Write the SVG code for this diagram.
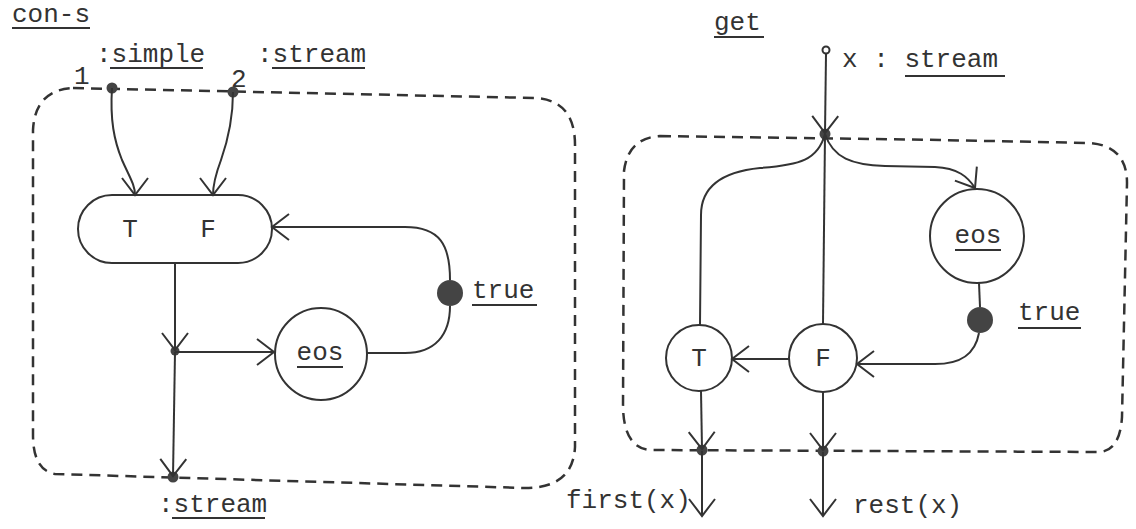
<svg xmlns="http://www.w3.org/2000/svg" width="1136" height="529" viewBox="0 0 1136 529">
<defs>
<style>
.t{font-family:"Liberation Mono","Courier New",monospace;font-size:26px;fill:#333}
.c{text-anchor:middle}
.ln{fill:none;stroke:#333;stroke-width:2}
.ul{stroke:#333;stroke-width:2}
.box{fill:none;stroke:#333;stroke-width:2.5;stroke-dasharray:11 7}
.nd{fill:#fff;stroke:#333;stroke-width:2}
.dot{fill:#444}
.arr{fill:none;stroke:#333;stroke-width:2;marker-end:url(#ah)}
</style>
<marker id="ah" markerUnits="userSpaceOnUse" viewBox="-20 -16 22 32" markerWidth="22" markerHeight="32" refX="0" refY="0" orient="auto" overflow="visible">
<path d="M -17 -13 L 0 0 L -17 13" fill="none" stroke="#333" stroke-width="2"/>
</marker>
</defs>
<rect width="1136" height="529" fill="#fff"/>

<g id="con-s">
<text class="t" x="12" y="22">con-s</text>
<line class="ul" x1="12" y1="28" x2="90" y2="28"/>
<path class="box" d="M 73 88 L 535 98 Q 575 100 575 145 L 575 447 Q 573 488 525 488 L 55 474 Q 33 470 33 435 L 33 130 Q 35 90 73 88 Z"/>
</g>

<g id="in1">
<text class="t" x="74" y="84">1</text>
<text class="t" x="96" y="62">:simple</text>
<line class="ul" x1="110" y1="68" x2="203" y2="68"/>
<circle class="dot" cx="112" cy="88" r="5.5"/>
</g>
<g id="in2">
<text class="t" x="231" y="87">2</text>
<text class="t" x="257" y="62">:stream</text>
<line class="ul" x1="272" y1="68" x2="365" y2="68"/>
<circle class="dot" cx="233" cy="92" r="5.5"/>
</g>

<g id="pill">
<rect class="nd" x="78" y="195" width="194" height="68" rx="34" ry="34"/>
<text class="t c" x="130" y="237">T</text>
<text class="t c" x="208" y="237">F</text>
</g>

<g id="eos1">
<circle class="nd" cx="321" cy="354" r="46"/>
<text class="t c" x="320" y="360">eos</text>
<line class="ul" x1="297" y1="367" x2="343" y2="367"/>
</g>

<g id="true1">
<circle class="dot" cx="450" cy="293" r="13"/>
<text class="t" x="472" y="298">true</text>
<line class="ul" x1="472" y1="305" x2="537" y2="305"/>
</g>

<g id="junc1">
<circle class="dot" cx="175" cy="351" r="4.5"/>
</g>

<g id="out1">
<circle class="dot" cx="173" cy="477" r="5.5"/>
<text class="t" x="158" y="512">:stream</text>
<line class="ul" x1="172" y1="518" x2="265" y2="518"/>
</g>

<g id="get">
<text class="t" x="714" y="30">get</text>
<line class="ul" x1="714" y1="37" x2="764" y2="37"/>
<path class="box" d="M 660 136 L 940 140 L 1090 143 Q 1127 146 1127 183 L 1122 417 Q 1120 450 1100 452 L 650 450 Q 624 448 623 407 L 624 171 Q 628 138 660 136 Z"/>
</g>

<g id="inx">
<circle cx="826" cy="50" r="3.5" fill="#fff" stroke="#333" stroke-width="2"/>
<text class="t" x="842" y="67">x : stream</text>
<line class="ul" x1="905" y1="76" x2="1005" y2="76"/>
</g>

<g id="junc2">
<circle class="dot" cx="825" cy="134" r="5.5"/>
</g>

<g id="eos2">
<circle class="nd" cx="977" cy="236" r="47"/>
<text class="t c" x="978" y="243">eos</text>
<line class="ul" x1="955" y1="250" x2="1001" y2="250"/>
</g>

<g id="true2">
<circle class="dot" cx="980" cy="320" r="13"/>
<text class="t" x="1018" y="320">true</text>
<line class="ul" x1="1018" y1="328" x2="1081" y2="328"/>
</g>

<g id="nodeT">
<circle class="nd" cx="699" cy="358" r="33"/>
<text class="t c" x="699" y="366">T</text>
</g>
<g id="nodeF">
<circle class="nd" cx="823" cy="358" r="34"/>
<text class="t c" x="823" y="366">F</text>
</g>

<g id="outs">
<circle class="dot" cx="702" cy="450" r="5.5"/>
<circle class="dot" cx="823" cy="451" r="5.5"/>
<text class="t" x="566" y="508">first(x)</text>
<text class="t" x="853" y="513">rest(x)</text>
</g>

<g id="connectors">
<path class="arr" d="M 112 88 C 110 120 114 140 122 160 C 130 178 135 185 135 195"/>
<path class="arr" d="M 233 92 C 233 120 228 140 221 160 C 215 176 213 185 213 195"/>
<path class="arr" d="M 450 280 C 450 245 440 227 405 227 L 272 227"/>
<path class="ln" d="M 450 306 C 450 335 435 353 405 353 L 367 353"/>
<path class="arr" d="M 175 263 L 175 350"/>
<path class="arr" d="M 175 352 L 274 352"/>
<path class="arr" d="M 175 352 L 173 476"/>

<path class="arr" d="M 826 54 L 825 133"/>
<path class="ln" d="M 825 134 C 818 160 800 165 760 168 C 720 172 701 188 701 215 L 700 325"/>
<path class="ln" d="M 825 134 L 823 324"/>
<path class="arr" d="M 825 134 C 833 158 852 165 885 166 L 935 167 C 958 168 968 177 975 188"/>
<path class="ln" d="M 979 283 L 980 307"/>
<path class="arr" d="M 979 333 C 975 355 960 364 935 364 L 857 364"/>
<path class="arr" d="M 789 359 L 732 359"/>
<path class="arr" d="M 701 391 L 702 449"/>
<path class="arr" d="M 823 392 L 823 450"/>
<path class="arr" d="M 702 451 L 702 516"/>
<path class="arr" d="M 823 452 L 823 516"/>
</g>
</svg>
